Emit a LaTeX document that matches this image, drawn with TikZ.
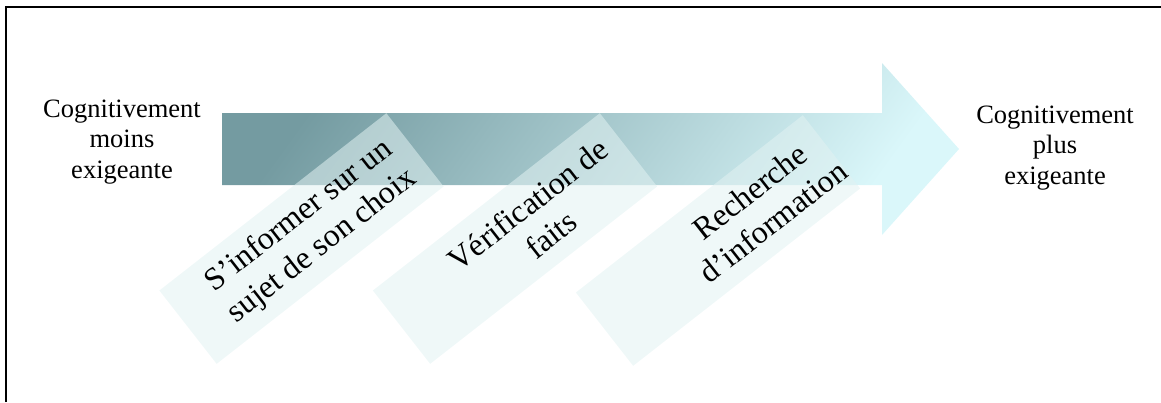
\documentclass[tikz,border=0pt]{standalone}
\usepackage{fontspec}
\setmainfont{Liberation Serif}
\usetikzlibrary{calc}
\begin{document}
\begin{tikzpicture}[x=1pt,y=-1pt,
  sidelabel/.style={align=center,inner sep=0pt,
    font=\fontsize{26.5}{30.5}\selectfont},
  stagebox/.style={rotate=38,minimum width=288pt,minimum height=93pt,
    inner sep=0pt,fill=boxfill,fill opacity=0.55},
  stagetext/.style={rotate=38,inner sep=0pt,align=center,
    font=\fontsize{32}{38}\selectfont},
  framerule/.style={line width=2pt,draw=black}]
\definecolor{boxfill}{RGB}{226,242,242}
\definecolor{arrowTop}{RGB}{116,155,161}
\definecolor{arrowMid}{RGB}{162,200,205}
\definecolor{arrowBot}{RGB}{218,247,250}
\useasboundingbox (0,0) rectangle (1161,402);
% frame (top and left edges)
\draw[framerule] (6,402) -- (6,7) -- (1161,7);
% main arrow, shaded from dark teal (upper left) to pale cyan (lower right)
\shade[top color=arrowTop, middle color=arrowMid, bottom color=arrowBot,
       shading angle=54]
  (222,113) -- (882,113) -- (882,63) -- (959,149) -- (882,235) -- (882,185)
  -- (222,185) -- cycle;
% end labels
\node[sidelabel] (less) at (122,142) {Cognitivement\\moins\\exigeante};
\node[sidelabel] (more) at (1055,148) {Cognitivement\\plus\\exigeante};
% the three task boxes
\node[stagebox] (s1) at (301.5,238.5) {};
\node[stagebox] (s2) at (515,238.5) {};
\node[stagebox] (s3) at (718,240.5) {};
% their texts, pushed along the box axis
\node[stagetext] (t1) at ($(s1.center)+(38:12pt)$) {S’informer sur un\\sujet de son choix};
\node[stagetext] (t2) at ($(s2.center)+(38:31pt)$) {Vérification de\\faits};
\node[stagetext] (t3) at ($(s3.center)+(38:55pt)$) {Recherche\\d’information};
\end{tikzpicture}
\end{document}
